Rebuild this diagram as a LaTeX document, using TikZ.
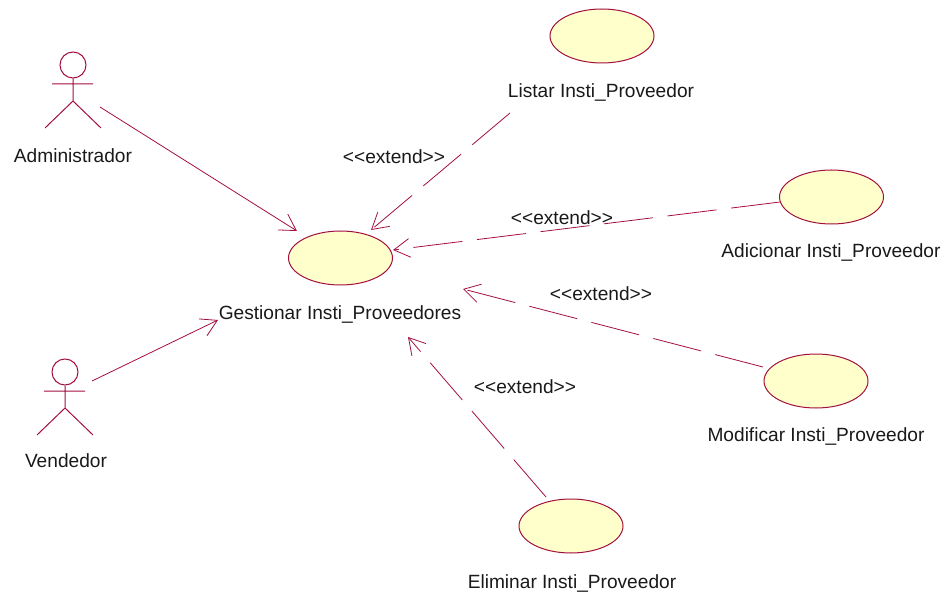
\documentclass[tikz,border=0pt]{standalone}
\usepackage{fontspec}
\setmainfont{Liberation Sans}
\usetikzlibrary{arrows.meta,shapes.geometric}
\definecolor{rose}{HTML}{A3103F}
\definecolor{usefill}{HTML}{FFFFCC}
\tikzset{
  usecase/.style={ellipse,draw=rose,fill=usefill,line width=0.75pt,minimum width=78pt,minimum height=40.5pt,inner sep=0pt},
  lbl/.style={font=\fontsize{14.35pt}{16pt}\selectfont,text=black!90,inner sep=0pt,text height=10pt,text depth=3pt},
  assoc/.style={draw=rose,line width=0.6pt,-{Straight Barb[length=12pt,width=14pt,line width=0.6pt]}},
  ext/.style={assoc,dash pattern=on 37pt off 11pt},
  actorline/.style={draw=rose,line width=0.75pt},
  actorhead/.style={circle,draw=rose,line width=0.75pt,minimum size=19.5pt,inner sep=0pt}
}
\begin{document}
\begin{tikzpicture}[x=0.75pt,y=-0.75pt]
\useasboundingbox (0,0) rectangle (946,595);
% use cases
\node[usecase] (gest) at (340.5,258) {};
\node[usecase] (listar) at (602,36) {};
\node[usecase] (adic) at (831.5,197) {};
\node[usecase] (modif) at (816,381) {};
\node[usecase] (elim) at (571,526) {};
% actors
\node[actorhead] (adminhead) at (73,65) {};
\coordinate (adminhip) at (73,101);
\coordinate (adminarmL) at (52,84);
\coordinate (adminarmR) at (93,84);
\coordinate (adminlegL) at (45,128);
\coordinate (adminlegR) at (101,128);
\draw[actorline] (adminhead) -- (adminhip) (adminarmL) -- (adminarmR) (adminlegL) -- (adminhip) -- (adminlegR);
\node[actorhead] (vendhead) at (65,372) {};
\coordinate (vendhip) at (65,408);
\coordinate (vendarmL) at (44,391);
\coordinate (vendarmR) at (85,391);
\coordinate (vendlegL) at (37,435);
\coordinate (vendlegR) at (93,435);
\draw[actorline] (vendhead) -- (vendhip) (vendarmL) -- (vendarmR) (vendlegL) -- (vendhip) -- (vendlegR);
% labels
\node[lbl] (lgest) at (340,315) {Gestionar Insti\_Proveedores};
\node[lbl] (llistar) at (601,93) {Listar Insti\_Proveedor};
\node[lbl] (ladic) at (831,253) {Adicionar Insti\_Proveedor};
\node[lbl] (lmodif) at (816,437) {Modificar Insti\_Proveedor};
\node[lbl] (lelim) at (572,584) {Eliminar Insti\_Proveedor};
\node[lbl] (ladmin) at (73,158) {Administrador};
\node[lbl] (lvend) at (66,463) {Vendedor};
\node[lbl] (x1) at (394,159) {<{}<extend>{}>};
\node[lbl] (x2) at (562,220) {<{}<extend>{}>};
\node[lbl] (x3) at (601,296) {<{}<extend>{}>};
\node[lbl] (x4) at (525,389) {<{}<extend>{}>};
% connector free ends
\coordinate (s1) at (100,107); \coordinate (t1) at (297,231);
\coordinate (s2) at (92,381);  \coordinate (t2) at (218,320);
\coordinate (s3) at (510,113); \coordinate (t3) at (371,230);
\coordinate (s4) at (780,202); \coordinate (t4) at (393,250);
\coordinate (s5) at (763,367); \coordinate (t5) at (463,289);
\coordinate (s6) at (546,497); \coordinate (t6) at (408,337);
% connectors
\draw[assoc] (s1) -- (t1);
\draw[assoc] (s2) -- (t2);
\draw[ext] (s3) -- (t3);
\draw[ext] (s4) -- (t4);
\draw[ext] (s5) -- (t5);
\draw[ext] (s6) -- (t6);
\end{tikzpicture}
\end{document}
